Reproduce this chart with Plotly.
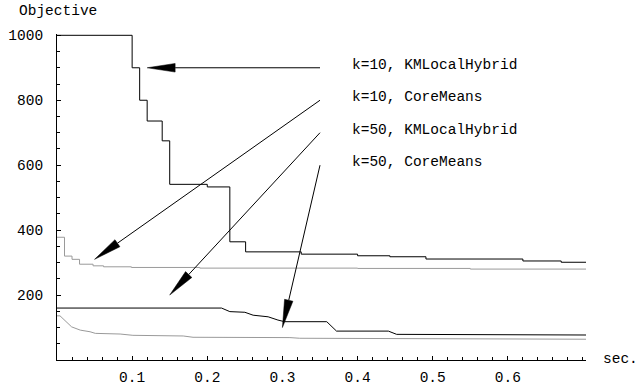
import math
import plotly.graph_objects as go

# ---------------- data ----------------
# k=10, KMLocalHybrid (step curve)
kml10_x = [0, 0.100, 0.110, 0.120, 0.140, 0.150, 0.200, 0.230, 0.251, 0.325, 0.400, 0.443, 0.491, 0.620, 0.671, 0.704]
kml10_y = [1000, 900, 800, 736, 675, 541, 533, 364, 333, 326, 321, 318, 311, 305, 301, 301]

# k=10, CoreMeans (step curve)
core10_x = [0, 0.010, 0.020, 0.030, 0.048, 0.062, 0.099, 0.190, 0.400, 0.550, 0.704]
core10_y = [378, 320, 310, 295, 290, 287, 285, 283, 282, 280, 280]

# k=50, KMLocalHybrid
kml50_x = [0, 0.219, 0.230, 0.250, 0.261, 0.281, 0.294, 0.303, 0.359, 0.372, 0.441, 0.452, 0.704]
kml50_y = [160, 160, 149, 147, 138, 133, 123, 118, 118, 89, 89, 79, 77]

# k=50, CoreMeans
core50_x = [0, 0.004, 0.0195, 0.031, 0.044, 0.051, 0.084, 0.101, 0.168, 0.181, 0.310, 0.323, 0.704]
core50_y = [136, 136, 102, 92, 87, 82, 80, 76, 74, 70, 69, 67, 64]

labels = ["k=10, KMLocalHybrid", "k=10, CoreMeans", "k=50, KMLocalHybrid", "k=50, CoreMeans"]
label_x = 0.39
arrow_tail_x = [0.35, 0.35, 0.35, 0.35]
arrow_tail_y = [900, 800, 700, 600]
arrow_tip_x = [0.12, 0.05, 0.15, 0.30]
arrow_tip_y = [900, 310, 200, 100]

x_ticks = [0.1, 0.2, 0.3, 0.4, 0.5, 0.6]
y_ticks = [200, 400, 600, 800, 1000]

# ---------------- geometry ----------------
W, H = 641, 385
X0, X1 = 0.0, 0.704
Y0, Y1 = 0.0, 1004.0
LEFT = 57.0
BOTTOM_PX = 360.0
PX_PER_X = 752.0
PX_PER_Y = 0.325
plot_w = (X1 - X0) * PX_PER_X
plot_h = (Y1 - Y0) * PX_PER_Y
m_l = LEFT
m_r = W - LEFT - plot_w
m_b = H - BOTTOM_PX
m_t = H - m_b - plot_h

def to_px(x, y):
    return LEFT + (x - X0) * PX_PER_X, BOTTOM_PX - (y - Y0) * PX_PER_Y

def to_data(px, py):
    return X0 + (px - LEFT) / PX_PER_X, Y0 + (BOTTOM_PX - py) / PX_PER_Y

def to_paper(px, py):
    return (px - LEFT) / plot_w, (BOTTOM_PX - py) / plot_h

FONT = "Liberation Mono, Courier New, monospace"
FS = 14.5
GRAY = "#9a9a9a"

fig = go.Figure()
fig.add_trace(go.Scatter(x=kml10_x, y=kml10_y, mode="lines", line=dict(color="black", width=1, shape="hv")))
fig.add_trace(go.Scatter(x=core10_x, y=core10_y, mode="lines", line=dict(color=GRAY, width=1, shape="hv")))
fig.add_trace(go.Scatter(x=kml50_x, y=kml50_y, mode="lines", line=dict(color="black", width=1)))
fig.add_trace(go.Scatter(x=core50_x, y=core50_y, mode="lines", line=dict(color=GRAY, width=1)))

shapes = []
annotations = []
HEAD_LEN, HEAD_HW = 28.0, 4.3
for tx, ty, hx, hy in zip(arrow_tail_x, arrow_tail_y, arrow_tip_x, arrow_tip_y):
    tpx, tpy = to_px(tx, ty)
    hpx, hpy = to_px(hx, hy)
    dx, dy = hpx - tpx, hpy - tpy
    L = math.hypot(dx, dy)
    ux, uy = dx / L, dy / L
    bpx, bpy = hpx - ux * HEAD_LEN, hpy - uy * HEAD_LEN
    nx, ny = -uy, ux
    bx, by = to_data(bpx, bpy)
    shapes.append(dict(type="line", xref="x", yref="y", x0=tx, y0=ty, x1=bx, y1=by,
                       line=dict(color="black", width=1)))
    c1 = to_data(bpx + nx * HEAD_HW, bpy + ny * HEAD_HW)
    c2 = to_data(bpx - nx * HEAD_HW, bpy - ny * HEAD_HW)
    path = f"M {hx},{hy} L {c1[0]},{c1[1]} L {c2[0]},{c2[1]} Z"
    shapes.append(dict(type="path", xref="x", yref="y", path=path,
                       fillcolor="black", line=dict(color="black", width=0.5)))

for lab, ty in zip(labels, arrow_tail_y):
    annotations.append(dict(x=label_x, y=ty, xref="x", yref="y", text=lab, showarrow=False,
                            xanchor="left", yanchor="middle", yshift=3,
                            font=dict(family=FONT, size=FS, color="black")))

ox, oy = to_paper(17, 11)
annotations.append(dict(x=ox, y=oy, xref="paper", yref="paper", text="Objective", showarrow=False,
                        xanchor="left", yanchor="middle", font=dict(family=FONT, size=FS, color="black")))
sx, sy = to_paper(601, 359)
annotations.append(dict(x=sx, y=sy, xref="paper", yref="paper", text="sec.", showarrow=False,
                        xanchor="left", yanchor="middle", font=dict(family=FONT, size=FS, color="black")))

axis_common = dict(showgrid=False, zeroline=False, showline=True, linecolor="black", linewidth=1,
                   ticks="inside", ticklen=4, tickwidth=1, tickcolor="black", automargin=False,
                   tickfont=dict(family=FONT, size=FS, color="black"))

fig.update_layout(
    width=W, height=H,
    margin=dict(l=m_l, r=m_r, t=m_t, b=m_b, pad=0, autoexpand=False),
    paper_bgcolor="white", plot_bgcolor="white",
    showlegend=False,
    xaxis=dict(range=[X0, X1], tickvals=x_ticks, ticktext=[f"{v:.1f}" for v in x_ticks],
               minor=dict(dtick=0.02, tick0=0, ticks="inside", ticklen=3, tickcolor="black"),
               ticklabelstandoff=4, **axis_common),
    yaxis=dict(range=[Y0, Y1], tickvals=y_ticks, ticktext=[str(v) for v in y_ticks],
               minor=dict(dtick=50, tick0=0, ticks="inside", ticklen=3, tickcolor="black"),
               ticklabelstandoff=10, **axis_common),
    shapes=shapes, annotations=annotations,
)

fig.write_html("out.html")
